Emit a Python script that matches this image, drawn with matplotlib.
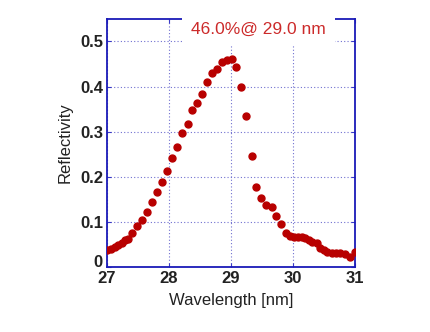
import matplotlib.pyplot as plt
import matplotlib.transforms as mtrans

plt.rcParams['font.family'] = ['Liberation Sans', 'DejaVu Sans']

# measured reflectivity vs wavelength
wavelength = [27.00, 27.07, 27.13, 27.18, 27.24, 27.29, 27.33, 27.40, 27.48, 27.56,
              27.64, 27.72, 27.80, 27.88, 27.96, 28.04, 28.13, 28.21, 28.30, 28.37,
              28.45, 28.53, 28.61, 28.69, 28.77, 28.85, 28.93, 29.01, 29.08, 29.16,
              29.24, 29.33, 29.40, 29.48, 29.56, 29.66, 29.73, 29.81, 29.89, 29.95,
              30.02, 30.08, 30.14, 30.19, 30.25, 30.31, 30.38, 30.44, 30.49, 30.55,
              30.63, 30.69, 30.76, 30.84, 30.92, 31.00]
reflectivity = [0.038, 0.039, 0.044, 0.049, 0.054, 0.060, 0.063, 0.075, 0.090, 0.104,
                0.121, 0.143, 0.166, 0.188, 0.212, 0.242, 0.266, 0.296, 0.316, 0.347,
                0.364, 0.384, 0.410, 0.429, 0.438, 0.455, 0.460, 0.462, 0.443, 0.399,
                0.334, 0.245, 0.178, 0.153, 0.138, 0.134, 0.113, 0.095, 0.075, 0.069,
                0.067, 0.066, 0.067, 0.064, 0.060, 0.056, 0.053, 0.042, 0.038, 0.033,
                0.031, 0.031, 0.031, 0.029, 0.023, 0.032]
peak_label = '46.0%@ 29.0 nm'

fig = plt.figure(figsize=(4.3, 3.32), dpi=100)
ax = fig.add_axes([0.249, 0.196, 0.577, 0.747])

ax.plot(wavelength, reflectivity, 'o', color='#b80000', ms=5.0, mec='#b80000', zorder=3)

ax.set_xlim(27, 31)
ax.set_ylim(0, 0.55)
ax.set_xticks([27, 28, 29, 30, 31])
ax.set_yticks([0, 0.1, 0.2, 0.3, 0.4, 0.5])
ax.set_yticklabels(['0', '0.1', '0.2', '0.3', '0.4', '0.5'])

ax.grid(True, color='#7070d0', linestyle=(0, (1, 2)), linewidth=0.8)
for s in ax.spines.values():
    s.set_color('#1a1ab8')
    s.set_linewidth(1.3)
ax.tick_params(direction='in', length=3, color='#3a3ac8', top=True, right=True,
               labelsize=12, labelcolor='#222222', pad=3)
for lbl in ax.get_xticklabels() + ax.get_yticklabels():
    lbl.set_fontweight('bold')

# lift the "0" a little so it clears the "27" below it
zero = ax.get_yticklabels()[0]
zero.set_transform(zero.get_transform()
                   + mtrans.ScaledTranslation(0, 4 / 72, fig.dpi_scale_trans))

ax.set_xlabel('Wavelength [nm]', fontsize=12, color='#222222', labelpad=5)
ax.set_ylabel('Reflectivity', fontsize=12, color='#222222', labelpad=5)

# peak annotation sits over the top frame, blanking it out behind the text
ax.text(29.44, 0.526, peak_label, ha='center', va='center', fontsize=12.5,
        color='#cc2a2a', zorder=5, clip_on=False,
        bbox=dict(facecolor='white', edgecolor='none', pad=6.5))

fig.savefig('out.png', dpi=100)
